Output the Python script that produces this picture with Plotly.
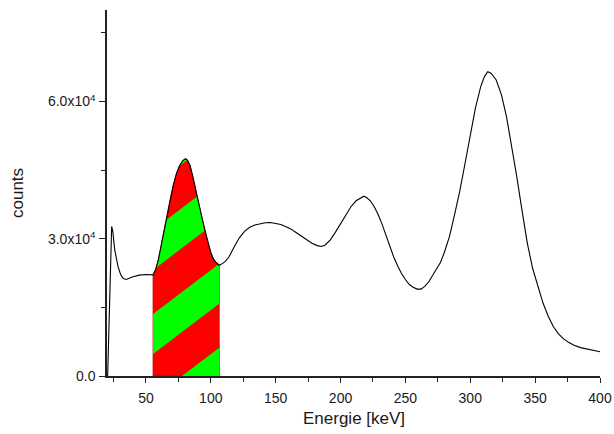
import plotly.graph_objects as go

# ---- data ----
energy = [20.5, 21.5, 22.5, 23.6, 24.5, 26, 28.5, 30.5, 32.5, 35, 37.5, 40, 45, 50,
          55.5, 57.5, 59.5, 61.5, 63.5, 66, 68.5, 71, 73.5, 76, 78.5, 80.5, 82, 84,
          86, 88, 90, 92, 94, 96, 98, 100, 102, 104, 106.5, 108, 111, 114, 118, 122,
          126, 130, 134, 138, 142, 146, 150, 154, 158, 162, 166, 170, 174, 178, 182,
          185, 188, 192, 196, 200, 204, 208, 212, 216, 218, 220, 223, 226, 229, 232,
          235, 238, 241, 244, 247, 250, 253, 256, 259, 262, 265, 268, 271, 274, 277,
          280, 284, 288, 292, 296, 300, 304, 308, 311, 313.5, 316, 320, 324, 328, 332,
          336, 340, 344, 348, 352, 356, 360, 364, 368, 372, 376, 380, 385, 390, 395, 400]
counts = [0, 12000, 26000, 32700, 31500, 27500, 23900, 22200, 21300, 21100, 21400, 21700, 22050, 22200,
          22100, 23300, 25300, 28200, 31300, 35000, 38400, 41600, 44200, 46000, 47100, 47500, 47200, 46000,
          43800, 41100, 38500, 36000, 33600, 31300, 28900, 27000, 25600, 24800, 24200, 24400, 25000, 26000, 28200, 30200,
          31600, 32500, 33000, 33300, 33500, 33550, 33400, 33100, 32600, 32100, 31300, 30500, 29700, 29000, 28500,
          28300, 28600, 29700, 31400, 33300, 35200, 37000, 38300, 39100, 39300, 39000, 38300, 37000, 35300, 33200,
          30700, 28300, 26000, 24100, 22400, 21100, 20000, 19400, 19000, 19000, 19600, 20600, 22000, 23300, 24800,
          27000, 30500, 35400, 40500, 46500, 53000, 58600, 63200, 65500, 66500, 66200, 64700, 61500, 56600, 50300,
          43300, 36000, 29000, 23600, 19500, 16000, 13100, 10800, 9200, 8100, 7300, 6700, 6200, 5850, 5550, 5300]

fill_start = 55.5
fill_end = 106.5

x_major = [50, 100, 150, 200, 250, 300, 350, 400]
x_minor = [25, 75, 125, 175, 225, 275, 325, 375]
y_major = [0, 30000, 60000]
y_major_text = ["0.0", "3.0x10<sup>4</sup>", "6.0x10<sup>4</sup>"]
y_minor = [15000, 45000, 75000]
x_title = "Energie [keV]"
y_title = "counts"

# ---- layout geometry ----
W, H = 614, 434
ML, MR, MT, MB = 107, 14, 10, 58
XR = [20, 400]
YR = [0, 80000]
kx = (W - ML - MR) / (XR[1] - XR[0])
ky = (H - MT - MB) / (YR[1] - YR[0])

# stripe style (pixel space)
stripe_slope = 0.76
stripe_period = 84
stripe_width = 40
stripe_phase = -13


def tval(p):
    return p[1] * ky - stripe_slope * kx * (p[0] - XR[0])


def clip(poly, c, keep_ge):
    out = []
    n = len(poly)
    for i in range(n):
        P = poly[i]
        Q = poly[(i + 1) % n]
        fp = tval(P) - c
        fq = tval(Q) - c
        if not keep_ge:
            fp, fq = -fp, -fq
        inP = fp >= 0
        inQ = fq >= 0
        if inP:
            out.append(P)
        if inP != inQ:
            t = fp / (fp - fq)
            out.append((P[0] + t * (Q[0] - P[0]), P[1] + t * (Q[1] - P[1])))
    return out


region = [(fill_start, 0)] + [(x, y) for x, y in zip(energy, counts)
                              if fill_start <= x <= fill_end] + [(fill_end, 0)]

fig = go.Figure()
fig.add_trace(go.Scatter(
    x=[p[0] for p in region] + [region[0][0]],
    y=[p[1] for p in region] + [region[0][1]],
    mode="lines", fill="toself", fillcolor="#ff0000",
    line=dict(color="#c00000", width=0.8), hoverinfo="skip", showlegend=False))

for k in range(-4, 5):
    lo = stripe_phase + k * stripe_period
    hi = lo + stripe_width
    poly = clip(region, lo, True)
    if len(poly) < 3:
        continue
    poly = clip(poly, hi, False)
    if len(poly) < 3:
        continue
    fig.add_trace(go.Scatter(
        x=[p[0] for p in poly] + [poly[0][0]],
        y=[p[1] for p in poly] + [poly[0][1]],
        mode="lines", fill="toself", fillcolor="#00ff00",
        line=dict(width=0, color="#00ff00"), hoverinfo="skip", showlegend=False))

fig.add_trace(go.Scatter(
    x=energy, y=counts, mode="lines",
    line=dict(color="black", width=1.1), showlegend=False))

font = "Liberation Sans, Arial, sans-serif"
fig.update_layout(
    width=W, height=H, autosize=False,
    margin=dict(l=ML, r=MR, t=MT, b=MB, autoexpand=False),
    paper_bgcolor="white", plot_bgcolor="white",
    font=dict(family=font, color="#1a1a1a", size=14),
    xaxis=dict(
        range=XR, showgrid=False, zeroline=False, showline=True, automargin=False,
        linecolor="#222", linewidth=1.5, ticks="outside", ticklen=5, tickwidth=1.3,
        tickcolor="#222", tickvals=x_major, ticktext=[str(v) for v in x_major],
        ticklabelstandoff=3,
        minor=dict(tickvals=x_minor, ticks="outside", ticklen=4, tickwidth=1.3, tickcolor="#222"),
        tickfont=dict(size=14),
    ),
    yaxis=dict(
        range=YR, showgrid=False, zeroline=False, showline=True, automargin=False,
        linecolor="#222", linewidth=1.5, ticks="outside", ticklen=6, tickwidth=1.3,
        tickcolor="#222", tickvals=y_major, ticktext=y_major_text,
        ticklabelstandoff=1,
        minor=dict(tickvals=y_minor, ticks="outside", ticklen=4, tickwidth=1.3, tickcolor="#222"),
        tickfont=dict(size=14),
    ),
    annotations=[
        dict(text=x_title, xref="paper", yref="paper", x=0.5, y=0, yshift=-42,
             xanchor="center", yanchor="middle", showarrow=False, font=dict(size=17)),
        dict(text=y_title, xref="paper", yref="paper", x=0, y=0.5, xshift=-90,
             xanchor="center", yanchor="middle", textangle=-90, showarrow=False,
             font=dict(size=17)),
    ],
)

fig.write_html("out.html")
